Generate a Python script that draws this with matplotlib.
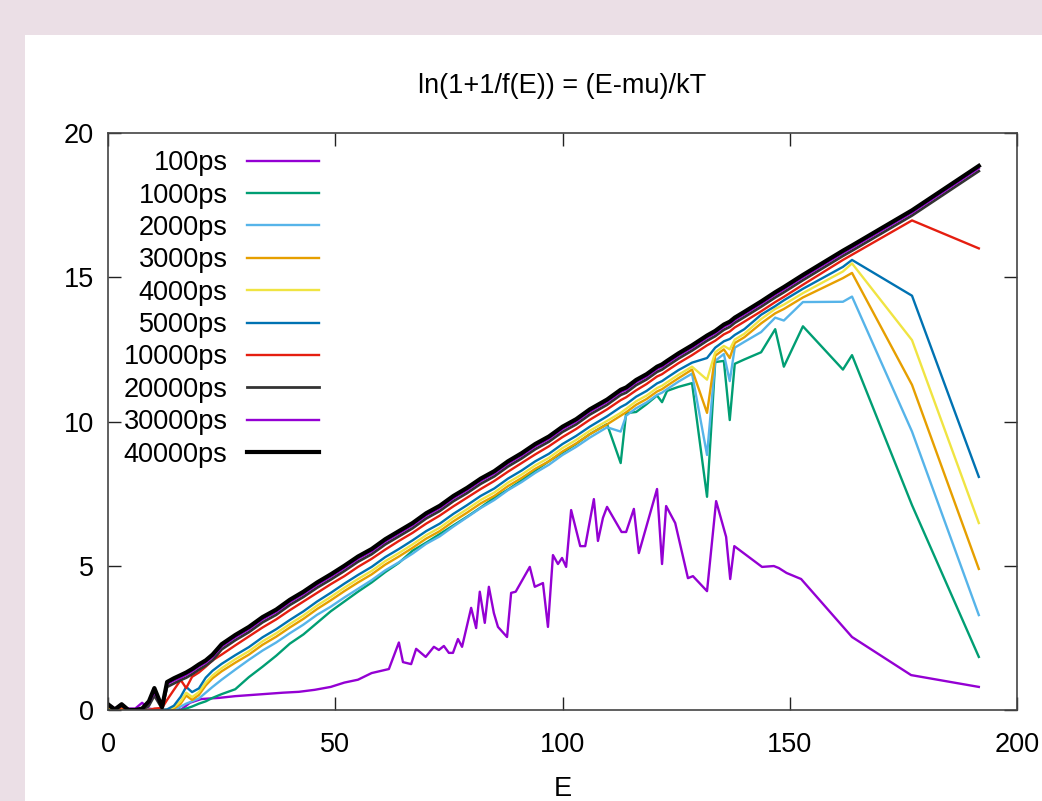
import matplotlib
matplotlib.use("Agg")
import matplotlib.pyplot as plt
from matplotlib.patches import Rectangle

plt.rcParams['font.family'] = ['Liberation Sans', 'DejaVu Sans']

# energy bins shared by most runs
E = [0, 1.5, 3, 4.5, 6, 7.5, 9, 10.2, 11.9, 13, 14.5, 16, 17.2, 18.5, 20, 21.5, 23,
     25, 28, 31, 34, 37, 40, 43, 46, 49, 52, 55, 58, 61, 64, 67, 70, 73, 76, 79, 82,
     85, 88, 91, 94, 97, 100, 103, 106,
     109.8, 112.8, 114, 116.2, 118.5, 120.8, 121.9, 123, 125.5, 128.5, 131.8, 133.6,
     135.5, 136.8, 137.9, 140, 143.7, 146.8, 148.7, 152.9, 161.7, 163.7, 176.9, 191.6]

# the 100ps run is noisy, read on its own points
E_100 = [0, 2, 4, 6, 7.5, 9, 11, 13, 15, 16, 18, 20.5, 24.4, 28, 31.5, 35, 38.5, 42,
         45.5, 49, 52, 55, 58, 61.8, 64, 64.9, 66.7, 67.8, 69.9, 71.7, 72.8, 73.9, 75,
         75.9, 77, 77.9, 79.9, 81, 81.8, 82.9, 83.8, 84.9, 85.8, 87.8, 88.7, 89.7, 92.8,
         93.9, 95.7, 96.8, 97.9, 99, 99.9, 100.8, 101.9, 103.9, 105, 106.9, 107.8, 108.9,
         109.8, 113, 114, 115.7, 116.8, 120.8, 121.9, 122.8, 124.8, 127.6, 128.7, 131.8,
         133.8, 136, 136.9, 137.8, 143.9, 146.5, 147.6, 149.3, 152.5, 163.7, 176.7, 191.6]
ps100 = [0.1, 0.0, 0.05, 0.05, 0.25, 0.05, 0.0, 0.0, 0.1, 0.0, 0.25, 0.38, 0.42, 0.48,
         0.52, 0.56, 0.6, 0.63, 0.7, 0.8, 0.95, 1.05, 1.28, 1.42, 2.34, 1.66, 1.59, 2.12,
         1.84, 2.19, 2.08, 2.22, 1.98, 1.98, 2.46, 2.19, 3.54, 2.84, 4.1, 3.02, 4.27, 3.36,
         2.88, 2.53, 4.06, 4.1, 4.96, 4.27, 4.4, 2.88, 5.37, 5.06, 5.27, 4.96, 6.93, 5.68,
         5.68, 7.31, 5.86, 6.66, 7.04, 6.17, 6.17, 6.97, 5.44, 7.66, 5.06, 7.07, 6.48, 4.57,
         4.64, 4.12, 7.24, 6.0, 4.54, 5.68, 4.96, 4.99, 4.92, 4.75, 4.54, 2.53, 1.21, 0.8]

ps1000 = [0.05, 0.0, 0.0, 0.0, 0.0, 0.0, 0.0, 0.0, 0.0, 0.0, 0.0, 0.0, 0.05, 0.12, 0.22, 0.3, 0.42,
          0.55, 0.72, 1.14, 1.5, 1.88, 2.3, 2.62, 3.02, 3.42, 3.76, 4.1, 4.42, 4.78, 5.1,
          5.52, 5.8, 6.1, 6.4, 6.7, 7.02, 7.36, 7.64, 7.96, 8.3, 8.62, 8.92, 9.22, 9.56,
          9.91, 8.56, 10.29, 10.33, 10.6, 10.9, 10.67, 11.06, 11.2, 11.33, 7.39, 12.06,
          12.1, 10.05, 12.0, 12.15, 12.4, 13.2, 11.9, 13.3, 11.8, 12.3, 7.1, 1.84]
ps2000 = [0.1, 0.0, 0.0, 0.0, 0.0, 0.0, 0.0, 0.0, 0.0, 0.0, 0.0, 0.12, 0.22, 0.3, 0.4, 0.6, 0.8,
          1.05, 1.4, 1.74, 2.06, 2.34, 2.66, 2.96, 3.3, 3.58, 3.9, 4.2, 4.5, 4.84, 5.12,
          5.42, 5.76, 6.02, 6.36, 6.68, 7.0, 7.28, 7.62, 7.9, 8.22, 8.5, 8.84, 9.12, 9.44,
          9.8, 9.65, 10.2, 10.46, 10.66, 10.92, 11.0, 11.12, 11.38, 11.66, 8.84, 12.1,
          12.34, 11.4, 12.56, 12.76, 13.1, 13.6, 13.5, 14.14, 14.15, 14.33, 9.65, 3.29]
ps3000 = [0.1, 0.0, 0.05, 0.0, 0.0, 0.0, 0.0, 0.0, 0.0, 0.0, 0.05, 0.22, 0.5, 0.35, 0.52, 0.85, 1.1,
          1.34, 1.64, 1.92, 2.26, 2.54, 2.86, 3.16, 3.5, 3.8, 4.12, 4.42, 4.7, 5.04, 5.32,
          5.62, 5.94, 6.2, 6.54, 6.84, 7.16, 7.42, 7.76, 8.04, 8.36, 8.62, 8.96, 9.24, 9.56,
          9.9, 10.2, 10.32, 10.58, 10.78, 11.04, 11.12, 11.24, 11.5, 11.8, 10.3, 12.28,
          12.5, 12.2, 12.72, 12.92, 13.4, 13.75, 13.9, 14.3, 14.97, 15.15, 11.27, 4.89]
ps4000 = [0.15, 0.0, 0.1, 0.0, 0.0, 0.0, 0.0, 0.0, 0.0, 0.0, 0.1, 0.3, 0.6, 0.45, 0.62, 0.95, 1.2,
          1.45, 1.76, 2.04, 2.38, 2.66, 2.98, 3.28, 3.62, 3.92, 4.24, 4.54, 4.82, 5.16, 5.44,
          5.74, 6.06, 6.32, 6.66, 6.96, 7.28, 7.54, 7.88, 8.16, 8.48, 8.74, 9.08, 9.36, 9.68,
          10.02, 10.3, 10.44, 10.7, 10.9, 11.16, 11.24, 11.36, 11.62, 11.9, 11.45, 12.4,
          12.62, 12.5, 12.84, 13.04, 13.55, 13.9, 14.05, 14.45, 15.2, 15.48, 12.82, 6.48]
ps5000 = [0.2, 0.0, 0.15, 0.0, 0.0, 0.0, 0.0, 0.0, 0.0, 0.02, 0.15, 0.46, 0.8, 0.62, 0.75, 1.12, 1.36,
          1.6, 1.9, 2.18, 2.52, 2.8, 3.12, 3.42, 3.76, 4.06, 4.38, 4.68, 4.96, 5.3, 5.58,
          5.88, 6.2, 6.46, 6.8, 7.1, 7.42, 7.68, 8.02, 8.3, 8.62, 8.88, 9.22, 9.5, 9.82,
          10.18, 10.5, 10.6, 10.86, 11.06, 11.32, 11.4, 11.52, 11.78, 12.04, 12.2, 12.56,
          12.78, 12.86, 13.0, 13.2, 13.7, 14.0, 14.2, 14.6, 15.36, 15.6, 14.36, 8.08]
ps10000 = [0.15, 0.0, 0.1, 0.0, 0.0, 0.0, 0.0, 0.05, 0.07, 0.35, 0.7, 1.04, 0.76, 1.15, 1.3, 1.5, 1.72,
           1.92, 2.24, 2.55, 2.86, 3.14, 3.46, 3.76, 4.06, 4.36, 4.64, 4.96, 5.24, 5.56, 5.86,
           6.14, 6.46, 6.74, 7.06, 7.36, 7.66, 7.94, 8.26, 8.56, 8.86, 9.14, 9.46, 9.74, 10.06,
           10.42, 10.74, 10.84, 11.08, 11.3, 11.56, 11.64, 11.76, 12.02, 12.3, 12.64, 12.8,
           13.02, 13.12, 13.26, 13.46, 13.82, 14.14, 14.32, 14.74, 15.6, 15.78, 16.97, 16.0]
ps20000 = [0.15, 0.0, 0.15, 0.0, 0.0, 0.0, 0.15, 0.5, 0.05, 0.8, 0.92, 1.04, 1.12, 1.24, 1.4, 1.54, 1.72,
           2.1, 2.42, 2.7, 3.04, 3.3, 3.64, 3.92, 4.24, 4.52, 4.82, 5.14, 5.4, 5.74, 6.02,
           6.3, 6.64, 6.9, 7.24, 7.52, 7.84, 8.1, 8.44, 8.72, 9.04, 9.3, 9.64, 9.9, 10.24,
           10.58, 10.92, 11.0, 11.26, 11.46, 11.72, 11.8, 11.92, 12.18, 12.46, 12.8, 12.96,
           13.18, 13.28, 13.42, 13.62, 13.98, 14.3, 14.48, 14.9, 15.74, 15.92, 17.14, 18.68]
ps30000 = [0.2, 0.05, 0.2, 0.0, 0.0, 0.05, 0.25, 0.62, 0.12, 0.9, 1.02, 1.12, 1.22, 1.34, 1.5, 1.64, 1.84,
           2.2, 2.52, 2.8, 3.14, 3.4, 3.74, 4.02, 4.34, 4.62, 4.92, 5.24, 5.5, 5.84, 6.12,
           6.4, 6.74, 7.0, 7.34, 7.62, 7.94, 8.2, 8.54, 8.82, 9.14, 9.4, 9.74, 10.0, 10.34,
           10.68, 11.02, 11.1, 11.36, 11.56, 11.82, 11.9, 12.02, 12.28, 12.56, 12.9, 13.06,
           13.28, 13.38, 13.52, 13.72, 14.08, 14.4, 14.58, 15.0, 15.84, 16.02, 17.24, 18.78]
ps40000 = [0.2, 0.02, 0.2, 0.0, 0.0, 0.05, 0.3, 0.76, 0.1, 0.97, 1.1, 1.21, 1.3, 1.42, 1.58, 1.72, 1.92,
           2.28, 2.6, 2.88, 3.22, 3.48, 3.82, 4.1, 4.42, 4.7, 5.0, 5.32, 5.58, 5.92, 6.2,
           6.48, 6.82, 7.08, 7.42, 7.7, 8.02, 8.28, 8.62, 8.9, 9.22, 9.48, 9.82, 10.08, 10.42,
           10.76, 11.1, 11.18, 11.44, 11.64, 11.9, 11.98, 12.1, 12.36, 12.64, 12.98, 13.14,
           13.36, 13.46, 13.6, 13.8, 14.16, 14.48, 14.66, 15.08, 15.92, 16.1, 17.32, 18.86]

labels = ["100ps", "1000ps", "2000ps", "3000ps", "4000ps", "5000ps",
          "10000ps", "20000ps", "30000ps", "40000ps"]
colors = ["#9400d3", "#009e73", "#56b4e9", "#e69f00", "#f0e442", "#0072b2",
          "#e51e10", "#333333", "#9400d3", "#000000"]
widths = [1.7, 1.7, 1.7, 1.7, 1.7, 1.7, 1.7, 2.0, 1.7, 3.0]
series = [(E_100, ps100), (E, ps1000), (E, ps2000), (E, ps3000), (E, ps4000),
          (E, ps5000), (E, ps10000), (E, ps20000), (E, ps30000), (E, ps40000)]

FS = 19.5

fig = plt.figure(figsize=(10.42, 8.01), dpi=100)
fig.patch.set_facecolor("#ebdfe6")
# white panel behind the plot
fig.patches.append(Rectangle((25 / 1042, 0), 1, (801 - 35) / 801,
                             transform=fig.transFigure, facecolor="white",
                             edgecolor="none", zorder=-10))

ax = fig.add_axes([108 / 1042, (801 - 710) / 801, 909 / 1042, 577 / 801])
ax.set_facecolor("white")

for (x, y), lab, c, w in zip(series, labels, colors, widths):
    ax.plot(x, y, color=c, lw=w, label=lab)

ax.set_xlim(0, 200)
ax.set_ylim(0, 20)
ax.set_xticks([0, 50, 100, 150, 200])
ax.set_yticks([0, 5, 10, 15, 20])
ax.tick_params(direction="in", length=9.5, width=1, top=True, right=True,
               labelsize=FS, color="#222222")
ax.tick_params(axis="x", pad=16)
ax.tick_params(axis="y", pad=10)
for s in ax.spines.values():
    s.set_color("#444444")
    s.set_linewidth(1.2)

ax.set_title("ln(1+1/f(E)) = (E-mu)/kT", fontsize=FS, pad=29)
ax.set_xlabel("E", fontsize=FS, labelpad=13)

ax.legend(loc="upper right", bbox_to_anchor=(0.253, 1.003), frameon=False,
          markerfirst=False, fontsize=FS, handlelength=2.66, handletextpad=0.72,
          labelspacing=0.235, borderpad=0.2)

fig.savefig("out.png", dpi=100, facecolor=fig.get_facecolor())
